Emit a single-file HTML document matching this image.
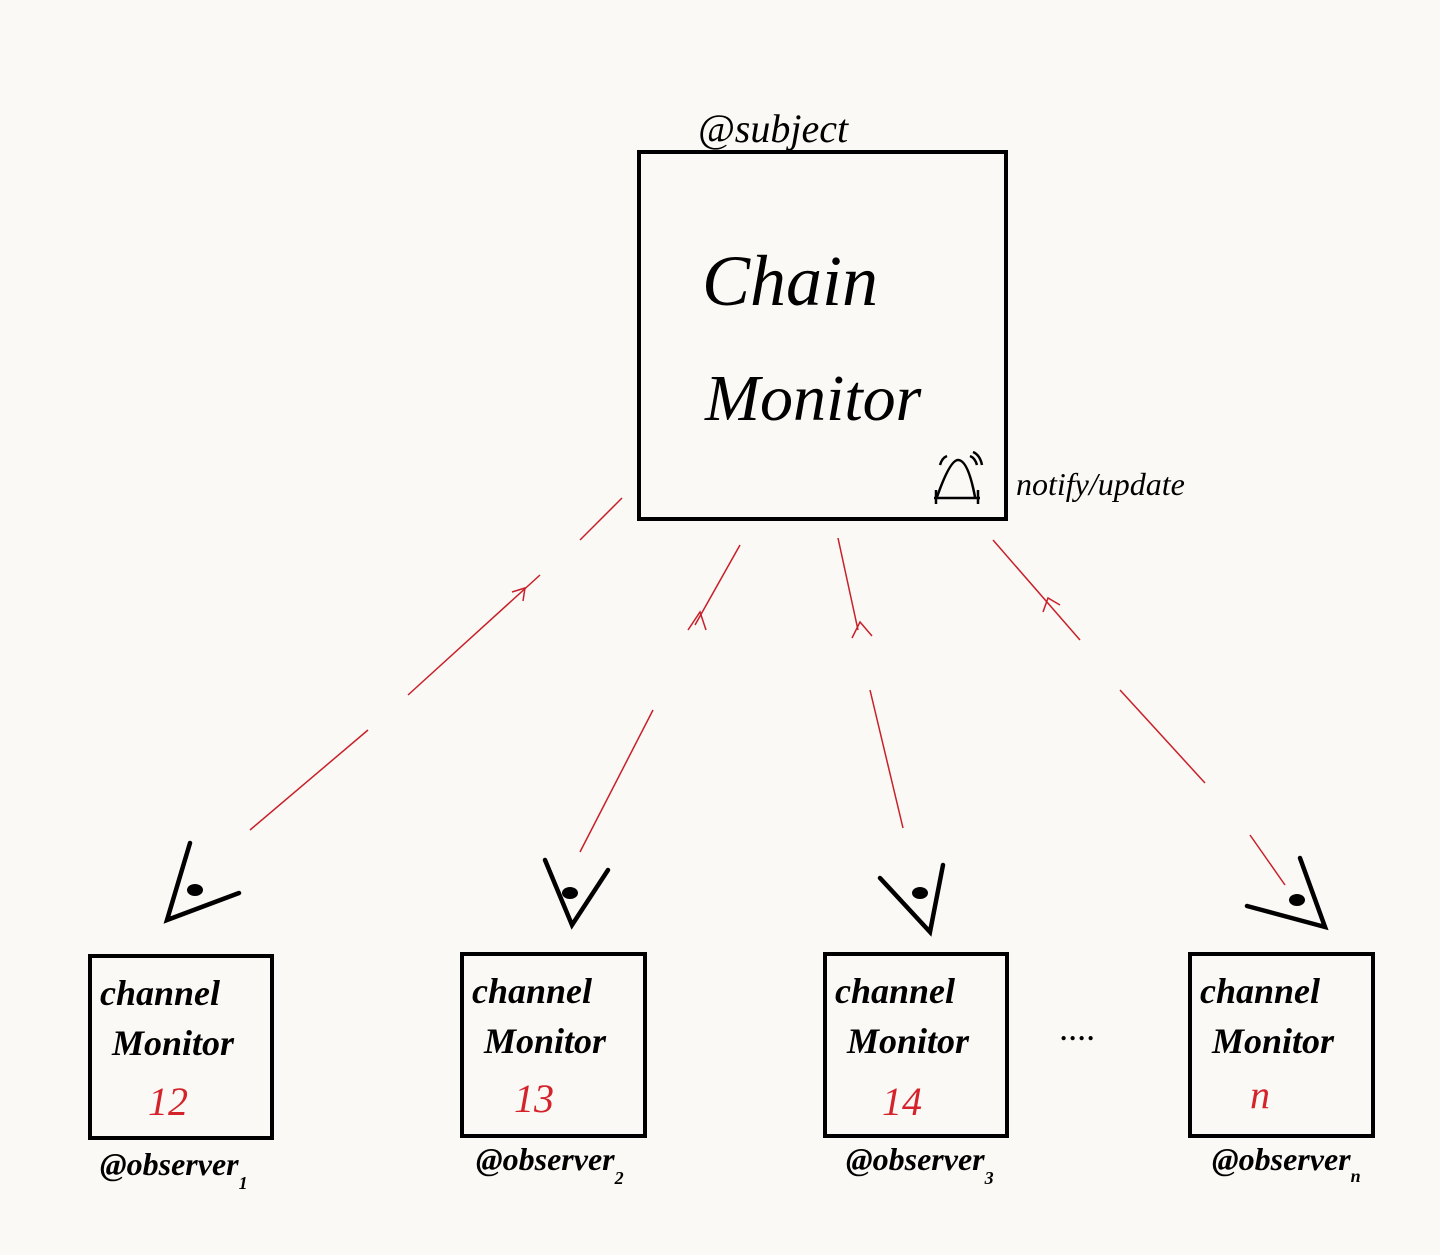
<!DOCTYPE html>
<html><head><meta charset="utf-8"><style>
html,body{margin:0;padding:0;background:#fbf9f5;}
svg{display:block}
text{font-family:"Liberation Serif",serif;font-style:italic;fill:#000}
</style></head><body>
<svg width="1440" height="1255" viewBox="0 0 1440 1255" xmlns="http://www.w3.org/2000/svg">
<rect width="1440" height="1255" fill="#fbf9f5"/>
<g fill="none" stroke="#000" stroke-width="4">
<rect x="639" y="152" width="367" height="367"/>
<rect x="90" y="956" width="182" height="182"/>
<rect x="462" y="954" width="183" height="182"/>
<rect x="825" y="954" width="182" height="182"/>
<rect x="1190" y="954" width="183" height="182"/>
</g>
<text x="698" y="142" font-size="40">@subject</text>
<text x="702" y="305" font-size="72">Chain</text>
<text x="705" y="420" font-size="66">Monitor</text>
<text x="1016" y="495" font-size="32">notify/update</text>
<g fill="none" stroke="#000" stroke-width="2.5">
<path d="M937 497 Q950 460 958 460 Q968 460 975 497"/>
<line x1="934" y1="498" x2="980" y2="498"/>
<line x1="936" y1="490" x2="936" y2="504"/><line x1="978" y1="490" x2="978" y2="504"/>
<path d="M940 465 Q942 458 947 456 M970 456 Q975 458 977 465 M973 452 Q980 455 982 465"/>
</g>
<g fill="none" stroke="#c8202a" stroke-width="1.5">
<line x1="250" y1="830" x2="368" y2="730"/><line x1="408" y1="695" x2="540" y2="575"/><line x1="580" y1="540" x2="622" y2="498"/>
<polyline points="512,592 525,588 523,601"/>
<line x1="580" y1="852" x2="653" y2="710"/><line x1="695" y1="625" x2="740" y2="545"/>
<polyline points="688,630 700,612 706,630"/>
<line x1="903" y1="828" x2="870" y2="690"/><line x1="858" y1="630" x2="838" y2="538"/>
<polyline points="852,638 860,622 872,636"/>
<line x1="1205" y1="783" x2="1120" y2="690"/><line x1="1080" y1="640" x2="993" y2="540"/>
<polyline points="1043,612 1048,598 1060,605"/>
<line x1="1250" y1="835" x2="1285" y2="885"/>
</g>
<g fill="none" stroke="#000" stroke-width="4.5" stroke-linecap="round">
<polyline points="190,843 167,920 239,893"/>
<polyline points="545,860 572,925 608,870"/>
<polyline points="880,878 930,932 943,865"/>
<polyline points="1300,858 1325,927 1247,906"/>
</g>
<g fill="#000">
<ellipse cx="195" cy="890" rx="8" ry="6"/><ellipse cx="570" cy="893" rx="8" ry="6"/>
<ellipse cx="920" cy="893" rx="8" ry="6"/><ellipse cx="1297" cy="900" rx="8" ry="6"/>
</g>
<g font-size="36" font-weight="bold">
<text x="100" y="1005">channel</text><text x="112" y="1055">Monitor</text>
<text x="472" y="1003">channel</text><text x="484" y="1053">Monitor</text>
<text x="835" y="1003">channel</text><text x="847" y="1053">Monitor</text>
<text x="1200" y="1003">channel</text><text x="1212" y="1053">Monitor</text>
</g>
<g font-size="40">
<text x="148" y="1115" style="fill:#d4232b">12</text>
<text x="514" y="1112" style="fill:#d4232b">13</text>
<text x="882" y="1115" style="fill:#d4232b">14</text>
<text x="1250" y="1108" style="fill:#d4232b">n</text>
</g>
<g font-size="32" font-weight="bold">
<text x="100" y="1175">@observer<tspan font-size="18" dy="14">1</tspan></text>
<text x="476" y="1170">@observer<tspan font-size="18" dy="14">2</tspan></text>
<text x="846" y="1170">@observer<tspan font-size="18" dy="14">3</tspan></text>
<text x="1212" y="1170">@observer<tspan font-size="18" dy="12">n</tspan></text>
</g>
<text x="1060" y="1040" font-size="36">....</text>
</svg>
</body></html>
